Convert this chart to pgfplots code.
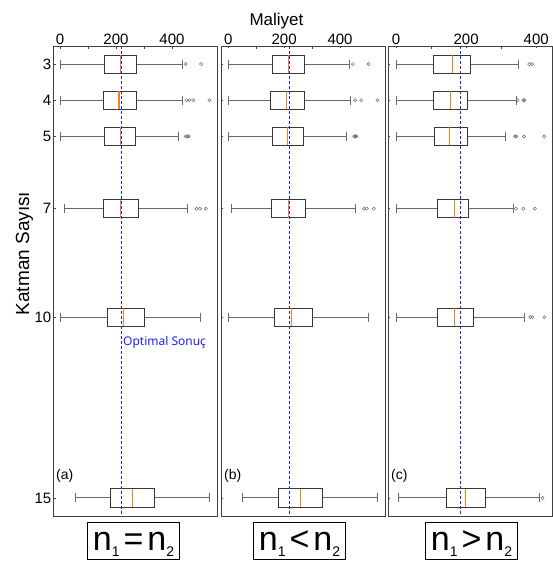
\documentclass[border=0pt]{standalone}
\usepackage{pgfplots}
\pgfplotsset{compat=1.18}
\usepgfplotslibrary{statistics}
\usepackage{fontspec}
\setmainfont{Liberation Sans}
\newfontfamily\notosans{Noto Sans}
\definecolor{medorange}{RGB}{255,127,14}
\definecolor{optblue}{RGB}{30,30,255}
\definecolor{boxgray}{RGB}{55,55,55}
\definecolor{whiskgray}{RGB}{105,105,105}

\pgfplotsset{
  panel/.style={
    scale only axis, width=164pt, height=470pt,
    anchor=north west,
    ymin=2.5, ymax=15.5, y dir=reverse,
    ytick={3,4,5,7,10,15},
    xtick={0,200,400}, minor x tick num=1,
    xtick pos=upper, xticklabel pos=upper,
    ytick pos=left,
    xtick align=inside,
    major tick length=3pt, minor tick length=3pt,
    tick style={black!70, line width=0.6pt},
    axis line style={black!75, line width=0.9pt},
    /pgf/number format/assume math mode=true,
    ticklabel style={font=\fontsize{15}{15}\selectfont},
    xticklabel style={inner sep=1pt},
    yticklabel style={inner sep=1.5pt},
    boxplot/box extend=0.5,
    boxplot/whisker extend=0.25,
    boxplot/every box/.style={draw=boxgray, line width=0.9pt},
    boxplot/every whisker/.style={draw=whiskgray, line width=0.9pt},
    boxplot/every median/.style={draw=medorange, line width=1.1pt},
  },
  inner/.style={yticklabels={}, ytick align=inside, major tick length=2pt},
  % optimal cost: an extra x tick drawn as a dashed blue grid line
  optimal/.style={
    extra x ticks={#1}, extra x tick labels={},
    extra x tick style={grid=major, major tick length=0pt,
      major grid style={draw=optblue, line width=1pt, dash pattern=on 3pt off 2pt}},
  },
}

% draw position, lower whisker, lower quartile, median, upper quartile, upper whisker, outliers
\newcommand{\bx}[7]{%
  \addplot[draw=boxgray, mark=o, mark options={draw=whiskgray, mark size=1.6pt, line width=0.5pt, solid},
    boxplot prepared={draw position=#1, lower whisker=#2, lower quartile=#3,
      median=#4, upper quartile=#5, upper whisker=#6}] coordinates {#7};}

\newcommand{\nlab}[1]{{\fontsize{34}{34}\selectfont n\raisebox{-6pt}{\fontsize{14}{14}\selectfont 1}\hspace{4pt}#1\hspace{4pt}n\raisebox{-6pt}{\fontsize{14}{14}\selectfont 2}}}
\tikzset{nbox/.style={draw, line width=1pt, inner xsep=5pt, inner ysep=0pt, text height=28pt, text depth=9pt, anchor=base}}

\begin{document}
\begin{tikzpicture}
\useasboundingbox (0,0) rectangle (553pt,-563pt);

% (a) n1 = n2
\begin{axis}[panel, optimal=218, at={(53pt,-46pt)}, xmin=-25, xmax=561]
\bx{3}{0}{158}{217}{274}{437}{(0,449) (0,504)}
\bx{4}{0}{155}{211}{274}{439}{(0,452) (0,462) (0,476) (0,534)}
\bx{5}{0}{158}{217}{271}{425}{(0,449) (0,455) (0,460)}
\bx{7}{15}{156}{217}{279}{456}{(0,488) (0,500) (0,521)}
\bx{10}{0}{168}{227}{302}{501}{}
\bx{15}{55}{181}{258}{337}{533}{}
\node[anchor=west, inner xsep=2pt, text=optblue, font=\notosans\fontsize{12}{12}\selectfont] at (axis cs:218,10.7) {Optimal Sonuç};
\node[anchor=west, inner sep=1pt, font=\fontsize{14}{14}\selectfont] at (rel axis cs:0.012,0.085) {(a)};
\end{axis}

% (b) n1 < n2
\begin{axis}[panel, inner, optimal=218, at={(221pt,-46pt)}, xmin=-26, xmax=561]
\bx{3}{0}{158}{215}{272}{435}{(0,446) (0,502)}
\bx{4}{0}{152}{209}{272}{439}{(0,454) (0,476) (0,534)}
\bx{5}{0}{158}{213}{270}{422}{(0,451) (0,455) (0,458)}
\bx{7}{12}{153}{215}{278}{456}{(0,486) (0,496) (0,521)}
\bx{10}{0}{167}{227}{301}{502}{}
\bx{15}{52}{179}{258}{336}{533}{}
\node[anchor=west, inner sep=1pt, font=\fontsize{14}{14}\selectfont] at (rel axis cs:0.012,0.085) {(b)};
\end{axis}

% (c) n1 > n2
\begin{axis}[panel, inner, optimal=185, at={(388pt,-46pt)}, xmin=-23, xmax=445]
\bx{3}{0}{108}{161}{213}{349}{(0,380) (0,388)}
\bx{4}{0}{108}{155}{203}{343}{(0,346) (0,363) (0,366)}
\bx{5}{0}{110}{153}{203}{311}{(0,339) (0,343) (0,365) (0,423)}
\bx{7}{0}{118}{166}{207}{334}{(0,342) (0,363) (0,396)}
\bx{10}{0}{118}{166}{220}{365}{(0,383) (0,389) (0,423)}
\bx{15}{8}{144}{197}{254}{408}{(0,418)}
\node[anchor=west, inner sep=1pt, font=\fontsize{14}{14}\selectfont] at (rel axis cs:0.012,0.085) {(c)};
\end{axis}

\node[anchor=base, font=\fontsize{17}{17}\selectfont] at (276.5pt,-25pt) {Maliyet};
\node[rotate=90, font=\fontsize{19}{19}\selectfont] at (24.5pt,-253.5pt) {Katman Sayısı};
\node[nbox] at (133.5pt,-550pt) {\nlab{=}};
\node[nbox] at (299.5pt,-550pt) {\nlab{<}};
\node[nbox] at (471.5pt,-550pt) {\nlab{>}};
\end{tikzpicture}
\end{document}
